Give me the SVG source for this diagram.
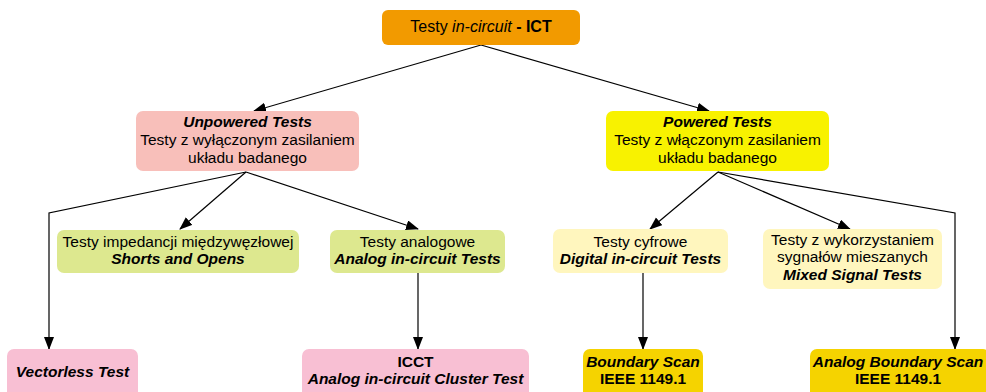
<svg xmlns="http://www.w3.org/2000/svg" width="986" height="392" viewBox="0 0 986 392">
<defs>
<marker id="arr" markerWidth="13" markerHeight="11" refX="12" refY="5" orient="auto" markerUnits="userSpaceOnUse"><path d="M0,0 L13,5 L0,10 z" fill="#000"/></marker>
<style>
text{font-family:"Liberation Sans",Arial,sans-serif;font-size:15.5px;fill:#000;text-anchor:middle}
.b{font-weight:bold}
.i{font-style:italic}
.bi{font-weight:bold;font-style:italic}
.c{fill:none;stroke:#000;stroke-width:1.2;marker-end:url(#arr)}
</style>
</defs>
<rect width="986" height="392" fill="#fff"/>
<g id="connectors">
<path class="c" d="M481,45 L254,111"/>
<path class="c" d="M481,45 L709,111"/>
<path class="c" d="M246,172 L49,213 L49,349"/>
<path class="c" d="M246,172 L180,229"/>
<path class="c" d="M246,172 L418,229"/>
<path class="c" d="M418,273 L418,349"/>
<path class="c" d="M718,172 L650,229"/>
<path class="c" d="M718,172 L850,229"/>
<path class="c" d="M718,172 L955,213 L955,349"/>
<path class="c" d="M643,273 L643,349"/>
</g>
<g id="ict">
<rect x="382" y="10" width="198" height="35" rx="6" fill="#F29A00"/>
<text x="481" y="32" style="font-size:16px">Testy <tspan class="i">in-circuit</tspan> <tspan class="b">- ICT</tspan></text>
</g>
<g id="unpowered">
<rect x="136" y="111" width="223" height="60" rx="7" fill="#F8BFBA"/>
<text x="247.5" y="127" class="bi">Unpowered Tests</text>
<text x="247.5" y="145">Testy z wyłączonym zasilaniem</text>
<text x="247.5" y="163">układu badanego</text>
</g>
<g id="powered">
<rect x="606" y="111" width="223" height="60" rx="7" fill="#F8F200"/>
<text x="717.5" y="127" class="bi">Powered Tests</text>
<text x="717.5" y="145">Testy z włączonym zasilaniem</text>
<text x="717.5" y="163">układu badanego</text>
</g>
<g id="shorts">
<rect x="57" y="230" width="242" height="43" rx="7" fill="#DDE88F"/>
<text x="178" y="247">Testy impedancji międzywęzłowej</text>
<text x="178" y="264" class="bi">Shorts and Opens</text>
</g>
<g id="analog">
<rect x="330" y="230" width="175" height="43" rx="7" fill="#DDE88F"/>
<text x="417.5" y="247">Testy analogowe</text>
<text x="417.5" y="264" class="bi">Analog in-circuit Tests</text>
</g>
<g id="digital">
<rect x="553" y="229" width="175" height="44" rx="7" fill="#FFF6BE"/>
<text x="640.5" y="247">Testy cyfrowe</text>
<text x="640.5" y="264" class="bi">Digital in-circuit Tests</text>
</g>
<g id="mixed">
<rect x="763" y="229" width="179" height="60" rx="7" fill="#FFF6BE"/>
<text x="852.5" y="245">Testy z wykorzystaniem</text>
<text x="852.5" y="262">sygnałów mieszanych</text>
<text x="852.5" y="280" class="bi">Mixed Signal Tests</text>
</g>
<g id="vectorless">
<rect x="7" y="349" width="131" height="55" rx="7" fill="#F8BFD3"/>
<text x="72.5" y="377" class="bi">Vectorless Test</text>
</g>
<g id="icct">
<rect x="302" y="349" width="227" height="55" rx="7" fill="#F8BFD3"/>
<text x="415.5" y="367" class="b">ICCT</text>
<text x="415.5" y="384" class="bi">Analog in-circuit Cluster Test</text>
</g>
<g id="bscan">
<rect x="583" y="349" width="120" height="55" rx="7" fill="#F5D300"/>
<text x="643" y="367" class="bi">Boundary Scan</text>
<text x="643" y="384" class="b">IEEE 1149.1</text>
</g>
<g id="abscan">
<rect x="810" y="349" width="180" height="55" rx="7" fill="#F5D300"/>
<text x="898" y="367" class="bi">Analog Boundary Scan</text>
<text x="898" y="384" class="b">IEEE 1149.1</text>
</g>
</svg>
